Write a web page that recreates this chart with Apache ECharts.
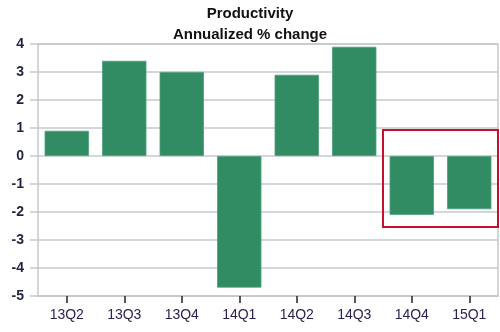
<!DOCTYPE html>
<html>
<head>
<meta charset="utf-8">
<style>
html,body{margin:0;padding:0;background:#fff;}
#chart{width:500px;height:332px;}
</style>
<script src="https://cdn.jsdelivr.net/npm/echarts@6/dist/echarts.min.js"></script>
</head>
<body>
<div id="chart"></div>
<script>
const titleLines = ['Productivity', 'Annualized % change'];
const categories = ['13Q2', '13Q3', '13Q4', '14Q1', '14Q2', '14Q3', '14Q4', '15Q1'];
const values = [0.9, 3.4, 3.0, -4.7, 2.9, 3.9, -2.1, -1.9];
const yTicks = [-5, -4, -3, -2, -1, 0, 1, 2, 3, 4];
const highlightCats = ['14Q4', '15Q1'];
const highlightRange = [0.93, -2.54];

const chart = echarts.init(document.getElementById('chart'), null, {renderer: 'canvas'});
const font = 'Liberation Sans, Arial, sans-serif';

chart.setOption({
  animation: false,
  title: [
    {text: titleLines[0], left: 'center', top: 1, textStyle: {fontFamily: font, fontSize: 15, fontWeight: 'bold', color: '#111'}},
    {text: titleLines[1], left: 'center', top: 22, textStyle: {fontFamily: font, fontSize: 15, fontWeight: 'bold', color: '#111'}}
  ],
  grid: {left: 38, right: 2, top: 44, bottom: 36, show: true, borderColor: '#c6c9cc', borderWidth: 1.5, containLabel: false},
  xAxis: {
    type: 'category',
    data: categories,
    axisLine: {show: true, onZero: false, lineStyle: {color: '#c6c9cc', width: 1.5}},
    axisTick: {show: true, alignWithLabel: true, length: 7, lineStyle: {color: '#222', width: 1.5}},
    axisLabel: {fontFamily: font, fontSize: 14, color: '#2e2152', margin: 12}
  },
  yAxis: {
    type: 'value',
    min: yTicks[0],
    max: yTicks[yTicks.length - 1],
    interval: 1,
    axisLine: {show: false},
    axisTick: {show: true, length: 8, lineStyle: {color: '#c6c9cc', width: 1.5}},
    splitLine: {lineStyle: {color: '#c6c9cc', width: 1.5}},
    axisLabel: {fontFamily: font, fontSize: 14, fontWeight: 'bold', color: '#1f2440', margin: 14}
  },
  series: [{
    type: 'bar',
    data: values,
    barWidth: '77%',
    itemStyle: {color: '#318c64', borderColor: '#4a9f78', borderWidth: 0.8}
  }]
});

function drawBox() {
  const i0 = categories.indexOf(highlightCats[0]);
  const i1 = categories.indexOf(highlightCats[1]);
  const c0 = chart.convertToPixel({xAxisIndex: 0}, i0);
  const c1 = chart.convertToPixel({xAxisIndex: 0}, i1);
  const half = (c1 - c0) / 2;
  const x0 = c0 - half;
  const x1 = c1 + half;
  const yTop = chart.convertToPixel({yAxisIndex: 0}, highlightRange[0]);
  const yBot = chart.convertToPixel({yAxisIndex: 0}, highlightRange[1]);
  chart.setOption({
    graphic: [{
      type: 'rect',
      shape: {x: x0, y: yTop, width: x1 - x0, height: yBot - yTop},
      style: {fill: 'none', stroke: '#c8102e', lineWidth: 2},
      z: 100
    }]
  });
}
drawBox();
</script>
</body>
</html>
